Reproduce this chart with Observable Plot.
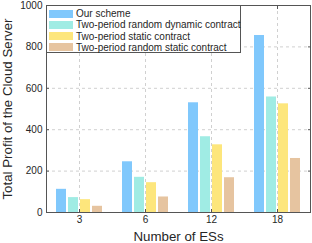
<!DOCTYPE html>
<html><head><meta charset="utf-8">
<script src="https://cdn.jsdelivr.net/npm/d3@7"></script>
<script src="https://cdn.jsdelivr.net/npm/@observablehq/plot@0.6"></script>
<style>
body{margin:0;background:#fff;font-family:"Liberation Sans",Arial,sans-serif}
#wrap{position:relative;width:312px;height:243px}
.legend{position:absolute;left:46px;top:5px;width:195px;height:48px;border:1px solid #555;background:#fff;box-sizing:border-box;font-size:10px;color:#262626}
.row{position:absolute;left:2px;height:11px;display:flex;align-items:center;white-space:nowrap}
.sw{width:24px;height:8px;margin-right:3px}
</style></head><body><div id="wrap"></div>
<script>
const groups = ["3", "6", "12", "18"];
const series = ["Our scheme", "Two-period random dynamic contract", "Two-period static contract", "Two-period random static contract"];
const colors = ["#80c8fc", "#a0ece4", "#fde67c", "#e6c4a0"];
const ourScheme = [112, 245, 530, 855];
const randomDynamic = [72, 170, 366, 558];
const staticContract = [62, 144, 327, 525];
const randomStatic = [30, 75, 168, 261];
const yTicks = [0, 200, 400, 600, 800, 1000];

const allValues = [ourScheme, randomDynamic, staticContract, randomStatic];
const data = [];
groups.forEach((g, i) => series.forEach((s, j) => data.push({group: g, series: s, value: allValues[j][i]})));

const font = '"Liberation Sans", Arial, sans-serif';
const axisColor = "#555";
const chart = Plot.plot({
  width: 312, height: 243,
  marginLeft: 45, marginRight: 2, marginTop: 5, marginBottom: 31,
  style: {fontFamily: font, fontSize: "10px", color: "#262626", background: "#fff"},
  fx: {domain: groups, padding: 0},
  x: {domain: series, paddingInner: 0.18, paddingOuter: 0.8, axis: null},
  y: {domain: [0, 1000]},
  color: {domain: series, range: colors},
  marks: [
    Plot.gridY(yTicks, {stroke: "#d0d0d0", strokeOpacity: 1, strokeDasharray: "3,3"}),
    Plot.gridFx({stroke: "#d0d0d0", strokeOpacity: 1, strokeDasharray: "3,3"}),
    Plot.barY(data, {fx: "group", x: "series", y: "value", fill: "series"}),
    Plot.frame({stroke: axisColor, facet: "super"}),
    // inward tick marks (MATLAB style)
    Plot.axisY(yTicks, {anchor: "left", tickSize: 3, dx: 3, stroke: axisColor, tickFormat: () => "", label: null}),
    Plot.axisY(yTicks, {anchor: "right", tickSize: 3, dx: -3, stroke: axisColor, tickFormat: () => "", label: null}),
    Plot.axisFx({anchor: "bottom", tickSize: 3, dy: -3, stroke: axisColor, tickFormat: () => "", label: null}),
    Plot.axisFx({anchor: "top", tickSize: 3, dy: 3, stroke: axisColor, tickFormat: () => "", label: null}),
    // labels
    Plot.axisY(yTicks, {anchor: "left", tickSize: 0, tickPadding: 4, tickFormat: d => String(d), label: null}),
    Plot.axisY({anchor: "left", ticks: [], tickSize: 0, label: "Total Profit of the Cloud Server", labelAnchor: "center", labelArrow: "none", labelOffset: 44, fontSize: 13.3}),
    Plot.axisFx({anchor: "bottom", tickSize: 0, tickPadding: 3, label: null}),
    Plot.axisFx({anchor: "bottom", ticks: [], tickSize: 0, label: "Number of ESs", labelAnchor: "center", labelArrow: "none", labelOffset: 28, fontSize: 13.3})
  ]
});
const wrap = document.getElementById("wrap");
wrap.appendChild(chart);
const legend = document.createElement("div");
legend.className = "legend";
series.forEach((s, i) => {
  const row = document.createElement("div");
  row.className = "row";
  row.style.top = (2 + i * 11.3) + "px";
  const sw = document.createElement("span");
  sw.className = "sw";
  sw.style.background = colors[i];
  const t = document.createElement("span");
  t.textContent = s;
  row.appendChild(sw); row.appendChild(t);
  legend.appendChild(row);
});
wrap.appendChild(legend);
</script></body></html>
